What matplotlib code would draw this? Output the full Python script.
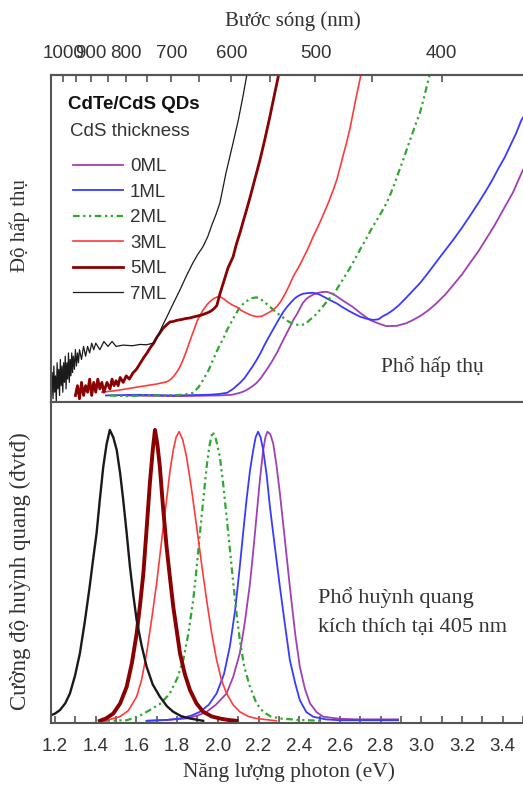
import numpy as np
import matplotlib
matplotlib.use("Agg")
import matplotlib.pyplot as plt
from matplotlib.ticker import FixedLocator, MultipleLocator, FormatStrFormatter

# ---------------- data ----------------
labels = ["0ML", "1ML", "2ML", "3ML", "5ML", "7ML"]
colors = ["#a040b4", "#3a3aff", "#2fa82f", "#ff3a3a", "#8b0000", "#1a1a1a"]

# absorption (energy eV, absorbance a.u.)
abs_0ML_E = [1.55, 1.8, 2.0, 2.07, 2.108, 2.13, 2.15, 2.17, 2.19, 2.21, 2.23, 2.25, 2.27, 2.29, 2.31,
             2.33, 2.354, 2.37, 2.39, 2.405, 2.418, 2.435, 2.45, 2.47, 2.487, 2.51, 2.534, 2.555, 2.58,
             2.62, 2.663, 2.705, 2.747, 2.79, 2.829, 2.88, 2.927, 2.96, 3.0, 3.04, 3.075, 3.12, 3.16,
             3.2, 3.238, 3.28, 3.32, 3.36, 3.402, 3.45, 3.492, 3.5]
abs_0ML_A = [0.02, 0.018, 0.02, 0.022, 0.028, 0.033, 0.04, 0.048, 0.058, 0.072, 0.09, 0.108, 0.128, 0.15,
             0.175, 0.2, 0.229, 0.25, 0.27, 0.288, 0.303, 0.315, 0.322, 0.329, 0.333, 0.336, 0.337,
             0.333, 0.325, 0.308, 0.291, 0.27, 0.251, 0.24, 0.232, 0.233, 0.241, 0.251, 0.265, 0.283,
             0.302, 0.33, 0.36, 0.39, 0.424, 0.46, 0.5, 0.54, 0.587, 0.64, 0.699, 0.71]

abs_1ML_E = [1.45, 1.6, 1.8, 1.95, 2.0, 2.045, 2.075, 2.108, 2.13, 2.15, 2.17, 2.19, 2.21, 2.23, 2.25,
             2.27, 2.29, 2.305, 2.32, 2.339, 2.36, 2.38, 2.4, 2.418, 2.44, 2.468, 2.495, 2.52, 2.55,
             2.583, 2.61, 2.64, 2.67, 2.698, 2.73, 2.763, 2.79, 2.81, 2.835, 2.861, 2.89, 2.92, 2.955,
             2.993, 3.03, 3.07, 3.11, 3.156, 3.2, 3.24, 3.28, 3.32, 3.35, 3.38, 3.41, 3.435, 3.465,
             3.492, 3.5]
abs_1ML_A = [0.02, 0.022, 0.02, 0.022, 0.024, 0.028, 0.04, 0.058, 0.072, 0.09, 0.108, 0.128, 0.15, 0.175,
             0.198, 0.22, 0.242, 0.258, 0.274, 0.29, 0.305, 0.318, 0.326, 0.331, 0.333, 0.334, 0.33,
             0.322, 0.312, 0.302, 0.291, 0.28, 0.27, 0.261, 0.255, 0.251, 0.253, 0.262, 0.27, 0.281,
             0.296, 0.315, 0.338, 0.363, 0.392, 0.425, 0.458, 0.495, 0.533, 0.57, 0.608, 0.648, 0.68,
             0.715, 0.748, 0.781, 0.82, 0.862, 0.87]

abs_2ML_E = [1.47, 1.55, 1.65, 1.75, 1.83, 1.877, 1.905, 1.93, 1.955, 1.976, 1.995, 2.01, 2.03, 2.045,
             2.065, 2.08, 2.095, 2.108, 2.13, 2.15, 2.17, 2.19, 2.21, 2.23, 2.25, 2.27, 2.29, 2.305,
             2.33, 2.35, 2.375, 2.403, 2.43, 2.45, 2.475, 2.501, 2.52, 2.54, 2.56, 2.583, 2.61, 2.64,
             2.67, 2.698, 2.73, 2.76, 2.795, 2.829, 2.85, 2.87, 2.89, 2.911, 2.93, 2.95, 2.97, 2.993,
             3.013, 3.033, 3.045]
abs_2ML_A = [0.02, 0.018, 0.02, 0.02, 0.022, 0.028, 0.045, 0.07, 0.098, 0.128, 0.155, 0.175, 0.198,
             0.22, 0.243, 0.26, 0.276, 0.29, 0.303, 0.312, 0.318, 0.32, 0.315, 0.305, 0.295, 0.283,
             0.272, 0.266, 0.254, 0.245, 0.238, 0.235, 0.238, 0.25, 0.263, 0.281, 0.295, 0.31, 0.326,
             0.343, 0.37, 0.40, 0.432, 0.465, 0.5, 0.535, 0.57, 0.608, 0.638, 0.67, 0.705, 0.74, 0.775,
             0.81, 0.846, 0.883, 0.93, 0.98, 1.01]

abs_3ML_E = [1.43, 1.50, 1.55, 1.617, 1.70, 1.75, 1.77, 1.785, 1.80, 1.814, 1.83, 1.845, 1.86, 1.877,
             1.90, 1.927, 1.95, 1.97, 1.985, 2.0, 2.01, 2.03, 2.05, 2.07, 2.092, 2.115, 2.14, 2.165,
             2.19, 2.215, 2.24, 2.265, 2.289, 2.31, 2.33, 2.35, 2.37, 2.395, 2.42, 2.445, 2.468, 2.495,
             2.52, 2.545, 2.567, 2.585, 2.60, 2.615, 2.632, 2.65, 2.665, 2.68, 2.698, 2.71]
abs_3ML_A = [0.03, 0.035, 0.04, 0.047, 0.055, 0.062, 0.07, 0.08, 0.093, 0.108, 0.13, 0.155, 0.182, 0.211,
             0.25, 0.281, 0.3, 0.312, 0.318, 0.322, 0.322, 0.315, 0.305, 0.297, 0.291, 0.28, 0.272,
             0.265, 0.261, 0.262, 0.27, 0.279, 0.291, 0.308, 0.33, 0.355, 0.383, 0.41, 0.44, 0.472,
             0.505, 0.54, 0.575, 0.612, 0.648, 0.68, 0.715, 0.752, 0.791, 0.838, 0.885, 0.932, 0.985,
             1.02]

abs_5ML_E = [1.30, 1.31, 1.32, 1.33, 1.34, 1.35, 1.36, 1.37, 1.38, 1.39, 1.40, 1.41, 1.42, 1.43, 1.44,
             1.455, 1.47, 1.48, 1.49, 1.50, 1.51, 1.52, 1.535, 1.55, 1.565, 1.583, 1.60, 1.62, 1.635,
             1.652, 1.67, 1.685, 1.70, 1.715, 1.73, 1.75, 1.765, 1.779, 1.80, 1.82, 1.84, 1.863, 1.88,
             1.90, 1.92, 1.946, 1.96, 1.975, 1.985, 1.995, 2.01, 2.03, 2.05, 2.075, 2.09, 2.11, 2.125,
             2.141, 2.158, 2.175, 2.19, 2.207, 2.23, 2.256, 2.275, 2.297, 2.31]
abs_5ML_A = [0.02, 0.05, 0.01, 0.06, 0.02, 0.05, 0.03, 0.07, 0.02, 0.06, 0.03, 0.07, 0.04, 0.06, 0.03,
             0.06, 0.04, 0.07, 0.05, 0.065, 0.05, 0.075, 0.06, 0.08, 0.07, 0.089, 0.10, 0.12, 0.135,
             0.15, 0.168, 0.18, 0.198, 0.211, 0.225, 0.237, 0.245, 0.246, 0.25, 0.252, 0.255, 0.257,
             0.26, 0.263, 0.266, 0.272, 0.276, 0.282, 0.288, 0.295, 0.33, 0.37, 0.41, 0.444, 0.48,
             0.52, 0.553, 0.587, 0.625, 0.665, 0.70, 0.74, 0.80, 0.873, 0.93, 0.995, 1.03]

abs_7ML_E = [1.182, 1.186, 1.19, 1.194, 1.198, 1.202, 1.206, 1.21, 1.214, 1.218, 1.222, 1.226, 1.23,
             1.234, 1.238, 1.242, 1.246, 1.25, 1.254, 1.258, 1.262, 1.266, 1.27, 1.274, 1.278, 1.282,
             1.286, 1.29, 1.295, 1.30, 1.305, 1.31, 1.315, 1.32, 1.33, 1.34, 1.35, 1.36, 1.37, 1.38,
             1.39, 1.40, 1.42, 1.44, 1.46, 1.48, 1.50, 1.534, 1.58, 1.617, 1.65, 1.681, 1.70, 1.715,
             1.73, 1.75, 1.78, 1.814, 1.845, 1.877, 1.9, 1.927, 1.95, 1.97, 1.99, 2.01, 2.04, 2.074,
             2.1, 2.123, 2.141, 2.15]
abs_7ML_A = [0.02, 0.09, 0.01, 0.11, 0.03, 0.08, 0.00, 0.12, 0.04, 0.10, 0.02, 0.13, 0.05, 0.11, 0.03,
             0.12, 0.06, 0.14, 0.04, 0.12, 0.07, 0.15, 0.06, 0.13, 0.08, 0.15, 0.09, 0.14, 0.10, 0.16,
             0.11, 0.15, 0.12, 0.16, 0.13, 0.17, 0.14, 0.17, 0.15, 0.18, 0.16, 0.18, 0.16, 0.185, 0.17,
             0.185, 0.17, 0.174, 0.172, 0.176, 0.175, 0.18, 0.195, 0.215, 0.236, 0.261, 0.3, 0.343,
             0.385, 0.425, 0.45, 0.475, 0.505, 0.54, 0.572, 0.608, 0.7, 0.79, 0.86, 0.933, 0.995, 1.03]

# photoluminescence (energy eV, normalised intensity)
pl_0ML_E = [1.65, 1.75, 1.846, 1.90, 1.945, 1.99, 2.043, 2.075, 2.108, 2.133, 2.158, 2.175, 2.19, 2.207,
            2.223, 2.234, 2.244, 2.258, 2.272, 2.288, 2.305, 2.33, 2.354, 2.38, 2.403, 2.428, 2.453,
            2.485, 2.518, 2.6, 2.681, 2.886]
pl_0ML_I = [0.0, 0.003, 0.008, 0.018, 0.031, 0.055, 0.094, 0.15, 0.232, 0.34, 0.472, 0.59, 0.702, 0.83,
            0.931, 0.975, 0.994, 0.985, 0.954, 0.88, 0.782, 0.62, 0.461, 0.30, 0.186, 0.11, 0.06, 0.03,
            0.014, 0.007, 0.005, 0.005]

pl_1ML_E = [1.65, 1.75, 1.814, 1.87, 1.912, 1.955, 1.994, 2.03, 2.059, 2.085, 2.108, 2.125, 2.141, 2.158,
            2.174, 2.186, 2.198, 2.21, 2.223, 2.24, 2.256, 2.28, 2.305, 2.33, 2.354, 2.38, 2.403, 2.435,
            2.469, 2.53, 2.6, 2.886]
pl_1ML_I = [0.0, 0.003, 0.008, 0.018, 0.031, 0.055, 0.094, 0.16, 0.255, 0.38, 0.53, 0.65, 0.759, 0.86,
            0.931, 0.975, 0.994, 0.975, 0.931, 0.845, 0.736, 0.6, 0.461, 0.33, 0.209, 0.13, 0.071, 0.03,
            0.014, 0.005, 0.002, 0.002]

pl_2ML_E = [1.437, 1.552, 1.61, 1.666, 1.72, 1.764, 1.80, 1.83, 1.855, 1.879, 1.895, 1.912, 1.93, 1.945,
            1.96, 1.974, 1.99, 2.01, 2.027, 2.043, 2.06, 2.076, 2.092, 2.108, 2.13, 2.158, 2.19, 2.223,
            2.26, 2.305, 2.4, 2.518]
pl_2ML_I = [0.0, 0.002, 0.015, 0.037, 0.06, 0.094, 0.145, 0.209, 0.30, 0.415, 0.52, 0.645, 0.77, 0.874,
            0.95, 0.994, 0.97, 0.908, 0.81, 0.702, 0.585, 0.472, 0.37, 0.278, 0.185, 0.117, 0.06, 0.031,
            0.015, 0.008, 0.003, 0.0]

pl_3ML_E = [1.42, 1.47, 1.518, 1.56, 1.601, 1.625, 1.65, 1.675, 1.699, 1.724, 1.748, 1.765, 1.781, 1.795,
            1.81, 1.828, 1.846, 1.87, 1.896, 1.92, 1.945, 1.97, 1.994, 2.018, 2.043, 2.075, 2.108, 2.15,
            2.19, 2.288]
pl_3ML_I = [0.0, 0.005, 0.014, 0.035, 0.083, 0.14, 0.232, 0.35, 0.472, 0.62, 0.759, 0.86, 0.931, 0.975,
            0.994, 0.965, 0.908, 0.8, 0.667, 0.54, 0.415, 0.3, 0.209, 0.14, 0.094, 0.055, 0.031, 0.015,
            0.008, 0.0]

pl_5ML_E = [1.42, 1.45, 1.486, 1.52, 1.552, 1.578, 1.601, 1.618, 1.634, 1.65, 1.666, 1.68, 1.691, 1.703,
            1.715, 1.73, 1.748, 1.765, 1.781, 1.798, 1.814, 1.838, 1.863, 1.895, 1.928, 1.97, 2.01, 2.05,
            2.092]
pl_5ML_I = [0.0, 0.008, 0.025, 0.06, 0.117, 0.2, 0.30, 0.40, 0.507, 0.66, 0.817, 0.93, 1.0, 0.95, 0.874,
            0.74, 0.599, 0.49, 0.392, 0.31, 0.232, 0.16, 0.106, 0.06, 0.031, 0.015, 0.008, 0.003, 0.0]

pl_7ML_E = [1.183, 1.2, 1.224, 1.25, 1.273, 1.298, 1.322, 1.346, 1.37, 1.387, 1.404, 1.42, 1.437, 1.453,
            1.469, 1.486, 1.503, 1.52, 1.535, 1.552, 1.568, 1.585, 1.601, 1.625, 1.65, 1.68, 1.715, 1.75,
            1.781, 1.82, 1.863, 1.928]
pl_7ML_I = [0.02, 0.025, 0.037, 0.06, 0.094, 0.155, 0.232, 0.34, 0.461, 0.555, 0.645, 0.76, 0.874, 0.95,
            1.0, 0.975, 0.931, 0.85, 0.759, 0.645, 0.53, 0.43, 0.346, 0.26, 0.186, 0.125, 0.083, 0.05,
            0.031, 0.016, 0.008, 0.0]

energy_ticks = [1.2, 1.4, 1.6, 1.8, 2.0, 2.2, 2.4, 2.6, 2.8, 3.0, 3.2, 3.4]
wavelength_ticks = [1000, 900, 800, 700, 600, 500, 400]
wavelength_minor = [950, 850, 750, 650, 550, 450]

abs_E = [abs_0ML_E, abs_1ML_E, abs_2ML_E, abs_3ML_E, abs_5ML_E, abs_7ML_E]
abs_A = [abs_0ML_A, abs_1ML_A, abs_2ML_A, abs_3ML_A, abs_5ML_A, abs_7ML_A]
pl_E = [pl_0ML_E, pl_1ML_E, pl_2ML_E, pl_3ML_E, pl_5ML_E, pl_7ML_E]
pl_I = [pl_0ML_I, pl_1ML_I, pl_2ML_I, pl_3ML_I, pl_5ML_I, pl_7ML_I]

# ---------------- figure ----------------
W, H = 523, 788
fig = plt.figure(figsize=(W / 100, H / 100), dpi=100)

sans = ["Liberation Sans", "DejaVu Sans"]
serif = ["Liberation Serif", "DejaVu Serif"]
tick_fs = 13.5
spine_col = "#555555"
text_col = "#333333"

x_left = 51 / W
y_top_px, y_mid_px, y_bot_px = 75, 402, 723
ax1 = fig.add_axes([x_left, 1 - y_mid_px / H, 1 - x_left, (y_mid_px - y_top_px) / H])
ax2 = fig.add_axes([x_left, 1 - y_bot_px / H, 1 - x_left, (y_bot_px - y_mid_px) / H])

xlim = (1.18, 3.5)

styles = [dict(ls="-", lw=1.3), dict(ls="-", lw=1.3), dict(ls=(0, (3, 1.6, 1, 1.6, 1, 1.6)), lw=1.6),
          dict(ls="-", lw=1.2), dict(ls="-", lw=2.0), dict(ls="-", lw=0.9)]

lines = []
for i in range(6):
    ln, = ax1.plot(abs_E[i], abs_A[i], color=colors[i], label=labels[i], **styles[i])
    lines.append(ln)
    pl_style = dict(styles[i])
    if i in (4, 5):
        pl_style["lw"] = pl_style["lw"] + 0.8
    ax2.plot(pl_E[i], pl_I[i], color=colors[i], **pl_style)

for ax in (ax1, ax2):
    ax.set_xlim(*xlim)
    ax.spines["right"].set_visible(False)
    for s in ("left", "top", "bottom"):
        ax.spines[s].set_color(spine_col)
        ax.spines[s].set_linewidth(1.5)
    ax.set_yticks([])

ax1.set_ylim(0, 1)
ax2.set_ylim(-0.0075, 1.096)

# top panel: no bottom ticks
ax1.tick_params(axis="x", which="both", bottom=False, labelbottom=False)

# bottom axis
ax2.xaxis.set_major_locator(FixedLocator(energy_ticks))
ax2.xaxis.set_minor_locator(MultipleLocator(0.1))
ax2.xaxis.set_major_formatter(FormatStrFormatter("%.1f"))
ax2.tick_params(axis="x", which="both", direction="in", length=5, width=1.2, color=spine_col,
                top=False, pad=11, labelsize=tick_fs, labelcolor=text_col)
for t in ax2.get_xticklabels():
    t.set_family(sans)


# top wavelength axis
def e2l(e):
    e = np.asarray(e, dtype=float)
    return 1240.0 / np.where(e == 0, 1e-9, e)


secax = ax1.secondary_xaxis("top", functions=(e2l, e2l))
secax.xaxis.set_major_locator(FixedLocator(wavelength_ticks))
secax.xaxis.set_minor_locator(FixedLocator(wavelength_minor))
secax.xaxis.set_major_formatter(FormatStrFormatter("%d"))
secax.tick_params(axis="x", which="both", direction="in", length=5, width=1.2, color=spine_col,
                  pad=9, labelsize=tick_fs, labelcolor=text_col)
for t in secax.get_xticklabels():
    t.set_family(sans)
secax.spines["top"].set_color(spine_col)
secax.spines["top"].set_linewidth(1.5)

# axis titles
fig.text(293 / W, 1 - 21 / H, "Bước sóng (nm)", ha="center", va="center",
         family=serif, fontsize=15, color=text_col)
fig.text(289 / W, 1 - 772 / H, "Năng lượng photon (eV)", ha="center", va="center",
         family=serif, fontsize=15.5, color=text_col)
fig.text(20 / W, 1 - 225 / H, "Độ hấp thụ", rotation=90, ha="center", va="center",
         family=serif, fontsize=15, color=text_col)
fig.text(20 / W, 1 - 571 / H, "Cường độ huỳnh quang (đvtđ)", rotation=90, ha="center", va="center",
         family=serif, fontsize=16.5, color=text_col)

# legend + titles
ax1.text(0.036, 0.91, "CdTe/CdS QDs", transform=ax1.transAxes, family=sans, fontsize=13.5,
         fontweight="bold", color="#111111", ha="left", va="center")
ax1.text(0.040, 0.826, "CdS thickness", transform=ax1.transAxes, family=sans, fontsize=13.5,
         color=text_col, ha="left", va="center")
leg = ax1.legend(handles=lines, loc="upper left", bbox_to_anchor=(0.046, 0.746), frameon=False,
                 handlelength=2.7, handletextpad=0.35, labelspacing=0.45, borderpad=0,
                 borderaxespad=0, prop={"family": sans, "size": 13.5})
for t in leg.get_texts():
    t.set_color(text_col)

ax1.text(0.807, 0.107, "Phổ hấp thụ", transform=ax1.transAxes, family=serif, fontsize=15.5,
         color=text_col, ha="center", va="center")
ax2.text(0.566, 0.39, "Phổ huỳnh quang", transform=ax2.transAxes, family=serif, fontsize=16,
         color=text_col, ha="left", va="center")
ax2.text(0.566, 0.297, "kích thích tại 405 nm", transform=ax2.transAxes, family=serif, fontsize=16,
         color=text_col, ha="left", va="center")

fig.savefig("out.png", dpi=100)
